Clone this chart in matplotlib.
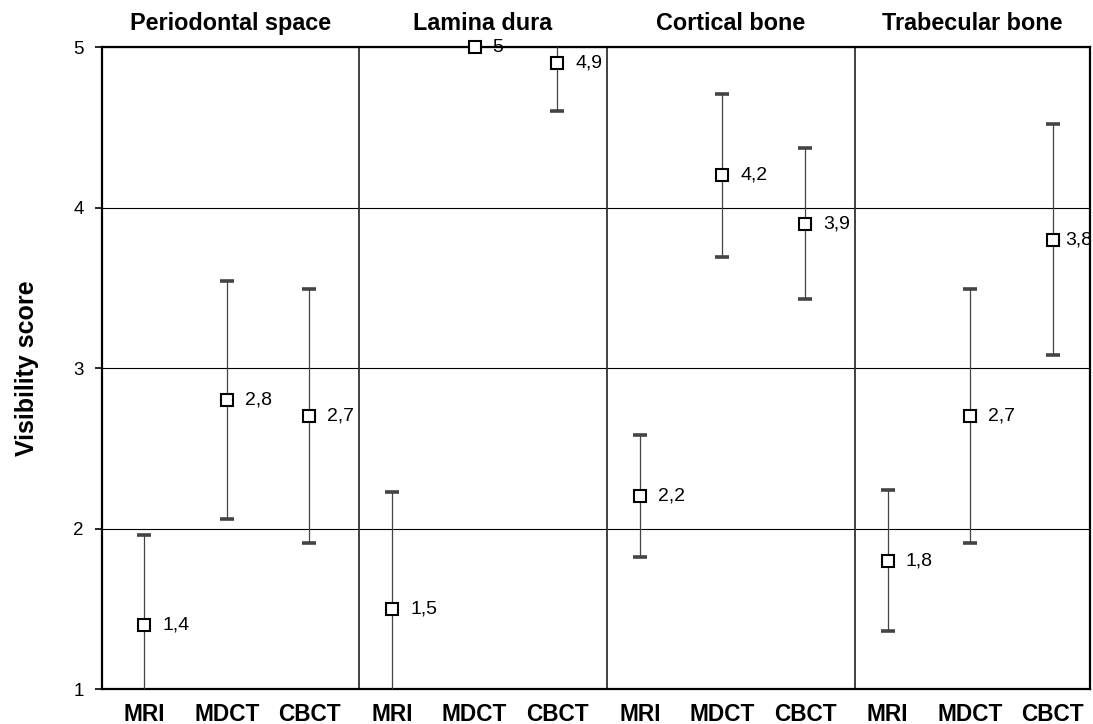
import numpy as np
import matplotlib
matplotlib.use("Agg")
import matplotlib.pyplot as plt
import matplotlib.transforms as mtransforms

plt.rcParams['font.family'] = ['Liberation Sans', 'DejaVu Sans']

# structures and modalities
structures = ["Periodontal space", "Lamina dura", "Cortical bone", "Trabecular bone"]
modalities = ["MRI", "MDCT", "CBCT"]

# mean visibility score per structure (MRI, MDCT, CBCT)
periodontal_mean = [1.4, 2.8, 2.7]
lamina_mean = [1.5, 5.0, 4.9]
cortical_mean = [2.2, 4.2, 3.9]
trabecular_mean = [1.8, 2.7, 3.8]

# standard deviations (error bars)
periodontal_sd = [0.56, 0.74, 0.79]
lamina_sd = [0.73, 0.0, 0.30]
cortical_sd = [0.38, 0.51, 0.47]
trabecular_sd = [0.44, 0.79, 0.72]

means = periodontal_mean + lamina_mean + cortical_mean + trabecular_mean
sds = periodontal_sd + lamina_sd + cortical_sd + trabecular_sd
tick_labels = modalities * len(structures)
x = np.arange(len(means))

fig = plt.figure(figsize=(10.93, 7.24), dpi=100)
ax = fig.add_axes([0.0933, 0.0483, 0.9040, 0.8867])

eb = ax.errorbar(x, means, yerr=sds, fmt='none', ecolor='#444444', elinewidth=0.9,
                 capsize=4.7, capthick=2.6, zorder=3)
for cap in eb[1]:
    cap.set_color('black')
ax.plot(x, means, linestyle='none', marker='s', markersize=9,
        markerfacecolor='white', markeredgecolor='black', markeredgewidth=1.5,
        zorder=5, clip_on=False)

for xi, m in zip(x, means):
    # the last label sits closer so it stays inside the frame
    off = 9 if xi == x[-1] else 13
    ax.annotate(f"{m:g}".replace('.', ','), (xi, m), xytext=(off, 0),
                textcoords='offset points', ha='left', va='center',
                fontsize=14, zorder=2, annotation_clip=False)

# panel dividers and titles
trans = mtransforms.blended_transform_factory(ax.transData, ax.transAxes)
for i, name in enumerate(structures):
    if i > 0:
        ax.axvline(i * 3 - 0.4, color='#333333', lw=1.3, zorder=2)
    left = i * 3 - 0.51 if i == 0 else i * 3 - 0.4
    right = i * 3 + 2.6 if i < 3 else 11.45
    ax.text((left + right) / 2, 1.037, name, transform=trans, ha='center',
            va='center', fontsize=16.8, fontweight='bold')

ax.set_xlim(-0.51, 11.45)
ax.set_ylim(1, 5)
ax.set_yticks([1, 2, 3, 4, 5])
ax.set_xticks(x)
ax.set_xticklabels(tick_labels, fontsize=16.3, fontweight='bold')
ax.tick_params(axis='x', length=0, pad=10)
ax.tick_params(axis='y', length=5, width=1.2, labelsize=13.5, pad=8)
ax.yaxis.grid(True, color='black', lw=0.8)
ax.set_axisbelow(True)

for s in ax.spines.values():
    s.set_linewidth(1.6)
    s.set_color('black')

ax.set_ylabel("Visibility score", fontsize=18, fontweight='bold')
ax.yaxis.set_label_coords(-0.064, 0.5)

fig.savefig("out.png", dpi=100)
